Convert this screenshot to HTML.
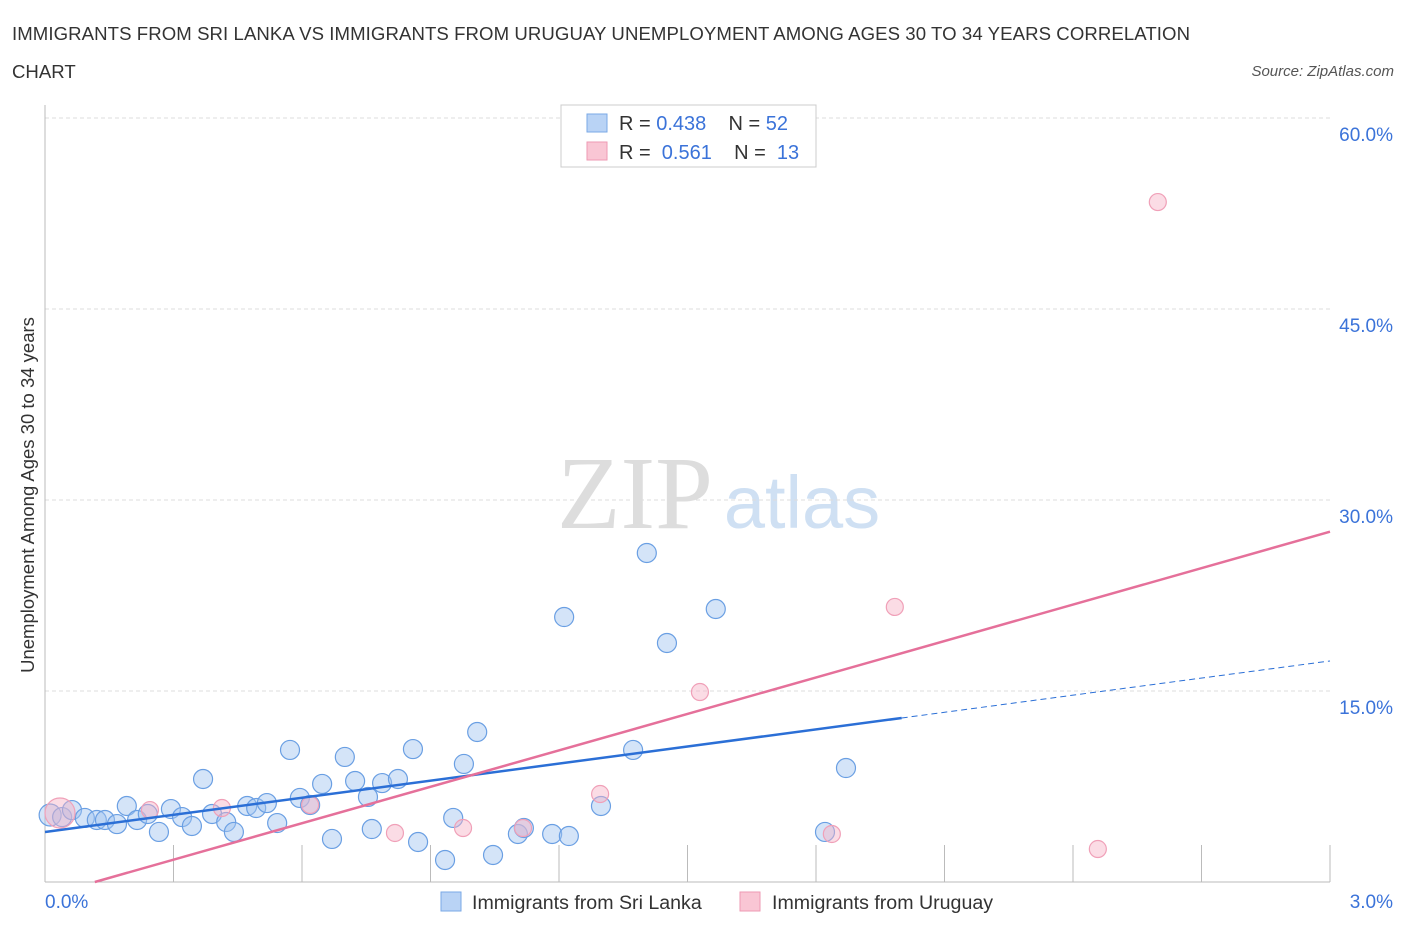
<!DOCTYPE html>
<html><head><meta charset="utf-8"><style>
body{margin:0;background:#fff;font-family:"Liberation Sans",sans-serif;}
</style></head><body>
<svg id="c" width="1406" height="930" xmlns="http://www.w3.org/2000/svg">
<text x="12" y="40" font-size="18.6" fill="#333" textLength="1178">IMMIGRANTS FROM SRI LANKA VS IMMIGRANTS FROM URUGUAY UNEMPLOYMENT AMONG AGES 30 TO 34 YEARS CORRELATION</text>
<text x="12" y="78" font-size="18.6" fill="#333">CHART</text>
<text x="1394" y="76" font-size="15" fill="#555" font-style="italic" text-anchor="end">Source: ZipAtlas.com</text>
<text x="635" y="528" font-size="104" fill="#ddd" font-family="Liberation Serif" text-anchor="middle">ZIP</text>
<text x="802" y="528" font-size="74" fill="#cfe0f3" text-anchor="middle">atlas</text>
<text transform="translate(34,495) rotate(-90)" font-size="18.5" fill="#333" text-anchor="middle">Unemployment Among Ages 30 to 34 years</text>
<g id="grid"></g><g id="marks"></g>
<g>
<rect x="561" y="105" width="255" height="62" fill="#fff" stroke="#ccc"/>
<rect x="587" y="114" width="20" height="18" fill="#b9d3f5" stroke="#7aa8e6"/>
<rect x="587" y="142" width="20" height="18" fill="#f9c6d4" stroke="#ee9ab3"/>
<text x="619" y="130" font-size="20" fill="#333" xml:space="preserve" style="white-space:pre">R = <tspan fill="#3b73d9">0.438</tspan>    N = <tspan fill="#3b73d9">52</tspan></text>
<text x="619" y="159" font-size="20" fill="#333" xml:space="preserve" style="white-space:pre">R =  <tspan fill="#3b73d9">0.561</tspan>    N =  <tspan fill="#3b73d9">13</tspan></text>
</g>
<g>
<rect x="441" y="892" width="20" height="19" fill="#b9d3f5" stroke="#7aa8e6"/>
<text x="472" y="909" font-size="19.6" fill="#333">Immigrants from Sri Lanka</text>
<rect x="740" y="892" width="20" height="19" fill="#f9c6d4" stroke="#ee9ab3"/>
<text x="772" y="909" font-size="19.6" fill="#333">Immigrants from Uruguay</text>
</g>
</svg>
<script>
const blueX=[0.012,0.04,0.063,0.093,0.121,0.14,0.168,0.191,0.215,0.24,0.266,0.294,0.32,0.343,0.369,0.39,0.423,0.441,0.472,0.493,0.518,0.542,0.572,0.595,0.619,0.647,0.67,0.7,0.724,0.754,0.763,0.787,0.824,0.859,0.871,0.934,0.953,0.978,1.009,1.046,1.104,1.118,1.184,1.212,1.223,1.298,1.373,1.405,1.452,1.566,1.821,1.87];
const blueY=[5.26,5.1,5.65,5.03,4.87,4.87,4.55,5.97,4.87,5.34,3.93,5.73,5.1,4.4,8.09,5.34,4.71,3.93,5.97,5.81,6.2,4.63,10.37,6.6,6.05,7.7,3.38,9.82,7.93,6.68,4.16,7.77,8.09,10.44,3.14,1.73,5.03,9.27,11.78,2.12,3.77,4.24,3.77,20.81,3.61,5.97,10.37,25.84,18.77,21.44,3.93,8.95];
const pinkX=[0.035,0.245,0.413,0.619,0.817,0.976,1.116,1.296,1.529,1.837,1.984,2.458,2.598];
const pinkY=[5.42,5.65,5.81,6.05,3.85,4.24,4.24,6.91,14.92,3.77,21.6,2.59,53.4];
const yTicks=[15,30,45,60];
const yTickLabels=["15.0%","30.0%","45.0%","60.0%"];
const blueFit=[3.93,12.88,17.36]; // at x=0, 2.0, 3.0
const pinkFit=[-1.11,9.54]; // intercept, slope
const X0=45,X1=1330,Y0=882,Y1=118;
const sx=v=>X0+(v/3)*(X1-X0), sy=v=>Y0-(v/60)*(Y0-Y1);
const NS="http://www.w3.org/2000/svg";
function mk(t,a,p){const e=document.createElementNS(NS,t);for(const k in a)e.setAttribute(k,a[k]);p.appendChild(e);return e;}
const g=document.getElementById('grid'),m=document.getElementById('marks');
yTicks.forEach((t,i)=>{
 const l=mk('line',{x1:X0,x2:X1,y1:sy(t),y2:sy(t),stroke:'#ddd','stroke-dasharray':'4,3'},g);
 
 
 const tx=mk('text',{x:1393,y:sy(t)+23,'font-size':19,fill:'#3b73d9','text-anchor':'end'},g);
 tx.textContent=yTickLabels[i];
 
 
});
const ax=mk('line',{x1:X0,x2:X1,y1:Y0,y2:Y0,stroke:'#bbb'},g);


const ay=mk('line',{x1:X0,x2:X0,y1:105,y2:Y0,stroke:'#bbb'},g);


for(let i=1;i<=10;i++){const t=mk('line',{x1:sx(i*0.3),x2:sx(i*0.3),y1:845,y2:Y0,stroke:'#bbb'},g);
 
 }
const xl0=mk('text',{x:45,y:908,'font-size':19,fill:'#3b73d9'},g);xl0.textContent='0.0%';


const xl1=mk('text',{x:1393,y:908,'font-size':19,fill:'#3b73d9','text-anchor':'end'},g);xl1.textContent='3.0%';


blueX.forEach((x,i)=>{const c=mk('circle',{cx:sx(x),cy:sy(blueY[i]),r:i==0?11:9.5,fill:'rgba(160,196,240,0.45)',stroke:'#6a9fe3','stroke-width':1.2},m);
 
 });
pinkX.forEach((x,i)=>{const c=mk('circle',{cx:sx(x),cy:sy(pinkY[i]),r:i==0?15:8.5,fill:'rgba(246,178,198,0.45)',stroke:'#f0a0b8','stroke-width':1.2},m);
 
 });
const bl=mk('line',{x1:sx(0),y1:sy(blueFit[0]),x2:sx(2),y2:sy(blueFit[1]),stroke:'#2b6fd6','stroke-width':2.5},m);


const bd=mk('line',{x1:sx(2),y1:sy(blueFit[1]),x2:sx(3),y2:sy(blueFit[2]),stroke:'#2b6fd6','stroke-width':1,'stroke-dasharray':'6,4'},m);


const x0p=-pinkFit[0]/pinkFit[1];
const pl=mk('line',{x1:sx(x0p),y1:sy(0),x2:sx(3),y2:sy(pinkFit[0]+pinkFit[1]*3),stroke:'#e5709a','stroke-width':2.5},m);


</script>
</body></html>
